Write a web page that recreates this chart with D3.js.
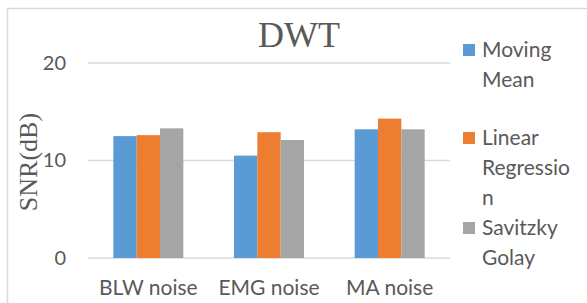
<!DOCTYPE html>
<meta charset="utf-8">
<style>
html, body { margin: 0; padding: 0; background: #fff; }
.tick text { font-family: Lato, "Open Sans", sans-serif; fill: #595959; }
</style>
<div id="chart"></div>
<script src="https://d3js.org/d3.v7.min.js"></script>
<script>

// chart data
var categories = ['BLW noise', 'EMG noise', 'MA noise'];
var seriesNames = ['Moving Mean', 'Linear Regression', 'Savitzky Golay'];
var movingMean = [12.5, 10.5, 13.2];
var linearRegression = [12.6, 12.9, 14.3];
var savitzkyGolay = [13.3, 12.1, 13.2];
var yTicks = [0, 10, 20];
var legendLines = [['Moving', 'Mean'], ['Linear', 'Regressio', 'n'], ['Savitzky', 'Golay']];

var colors = ['#5b9bd5', '#ed7d31', '#a5a5a5'];
var allSeries = [movingMean, linearRegression, savitzkyGolay];

var width = 587, height = 303;
var margin = {top: 63, left: 88, right: 137, bottom: 45};
var plotW = width - margin.left - margin.right,
    plotH = height - margin.top - margin.bottom;

var svg = d3.select('#chart').append('svg')
    .attr('width', width)
    .attr('height', height);

// outer chart border
svg.append('rect')
    .attr('x', 7.5).attr('y', 8.5)
    .attr('width', 600).attr('height', 300)
    .attr('fill', 'none')
    .attr('stroke', '#d9d9d9')
    .attr('stroke-width', 1.5);

var g = svg.append('g')
    .attr('transform', 'translate(' + margin.left + ',' + margin.top + ')');

var y = d3.scaleLinear().domain([0, 20]).range([plotH, 0]);
var x0 = d3.scaleBand().domain(categories).range([0, plotW]).paddingInner(0.42).paddingOuter(0.21);
var x1 = d3.scaleBand().domain(d3.range(seriesNames.length)).range([0, x0.bandwidth()]);

// gridlines
g.append('g')
  .selectAll('line')
  .data(yTicks)
  .enter().append('line')
    .attr('x1', 0).attr('x2', plotW)
    .attr('y1', function(d) { return y(d); })
    .attr('y2', function(d) { return y(d); })
    .attr('stroke', '#d9d9d9')
    .attr('stroke-width', 1.5);

var yAxis = g.append('g')
    .call(d3.axisLeft(y).tickValues(yTicks).tickSize(0).tickPadding(22));
yAxis.select('.domain').remove();
yAxis.selectAll('text').style('font-size', '20px');

// bars
var groups = g.selectAll('.grp')
  .data(categories)
  .enter().append('g')
    .attr('class', 'grp')
    .attr('transform', function(d) { return 'translate(' + x0(d) + ',0)'; });

groups.selectAll('rect')
  .data(function(d, i) { return allSeries.map(function(s, j) { return {j: j, v: s[i]}; }); })
  .enter().append('rect')
    .attr('x', function(d) { return x1(d.j); })
    .attr('width', x1.bandwidth())
    .attr('y', function(d) { return y(d.v); })
    .attr('height', function(d) { return plotH - y(d.v); })
    .attr('fill', function(d) { return colors[d.j]; });

var xAxis = g.append('g')
    .attr('transform', 'translate(0,' + plotH + ')')
    .call(d3.axisBottom(x0).tickSize(0).tickPadding(22));
xAxis.select('.domain').remove();
xAxis.selectAll('text').style('font-size', '21px');

// title
svg.append('text')
    .attr('x', 299).attr('y', 47)
    .attr('text-anchor', 'middle')
    .style('font-family', '"Liberation Serif", "Times New Roman", serif')
    .style('font-size', '36px')
    .style('fill', '#595959')
    .text('DWT');

// y axis label
svg.append('text')
    .attr('transform', 'translate(37,162) rotate(-90)')
    .attr('text-anchor', 'middle')
    .style('font-family', '"Liberation Serif", "Times New Roman", serif')
    .style('font-size', '26px')
    .style('fill', '#595959')
    .text('SNR(dB)');

// legend
var legendY = [50, 138, 228];
var legend = svg.append('g');
legendLines.forEach(function(lines, i) {
  legend.append('rect')
      .attr('x', 463).attr('y', legendY[i] - 6)
      .attr('width', 12).attr('height', 12)
      .attr('fill', colors[i]);
  var t = legend.append('text')
      .attr('x', 482).attr('y', legendY[i] + 7)
      .style('font-family', 'Lato, "Open Sans", sans-serif')
      .style('font-size', '21px')
      .style('fill', '#595959');
  lines.forEach(function(line, k) {
    t.append('tspan')
        .attr('x', 482)
        .attr('dy', k === 0 ? 0 : 30)
        .text(line);
  });
});

</script>
